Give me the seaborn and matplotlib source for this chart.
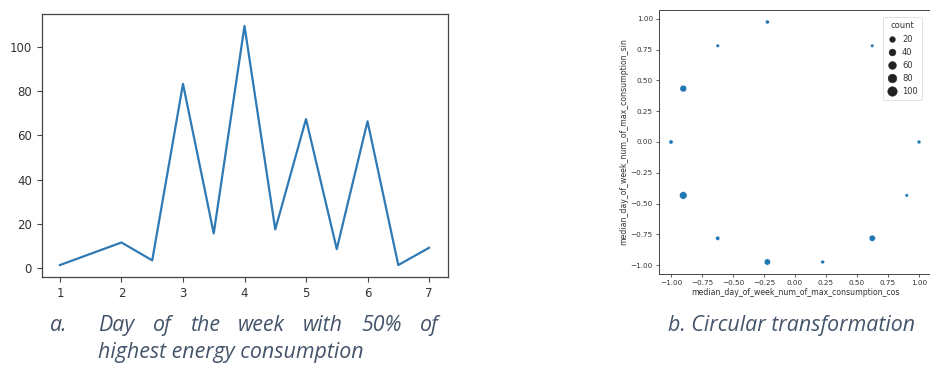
import matplotlib
matplotlib.use("Agg")
import matplotlib.pyplot as plt
import seaborn as sns
import pandas as pd

# ---- data ----
days = [1, 2, 2.5, 3, 3.5, 4, 4.5, 5, 5.5, 6, 6.5, 7]
counts = [1.4, 11.6, 3.5, 83.3, 15.7, 109.5, 17.5, 67.4, 8.6, 66.4, 1.4, 9.2]
cos_vals = [0.623, -0.223, -0.623, -0.901, -1.0, -0.901, -0.623, -0.223, 0.223, 0.623, 0.901, 1.0]
sin_vals = [0.782, 0.975, 0.782, 0.434, 0.0, -0.434, -0.782, -0.975, -0.975, -0.782, -0.434, 0.0]
left_xticks = [1, 2, 3, 4, 5, 6, 7]
left_yticks = [0, 20, 40, 60, 80, 100]
circ_ticks = [-1.0, -0.75, -0.5, -0.25, 0.0, 0.25, 0.5, 0.75, 1.0]
caption_a1 = ["Day", "of", "the", "week", "with", "50%", "of"]
caption_a2 = "highest energy consumption"
caption_b = "b. Circular transformation"

df_line = pd.DataFrame({"day": days, "count": counts})
df_circ = pd.DataFrame({"median_day_of_week_num_of_max_consumption_cos": cos_vals,
                        "median_day_of_week_num_of_max_consumption_sin": sin_vals,
                        "count": counts})

W, H = 930, 365
fig = plt.figure(figsize=(W / 100, H / 100), dpi=100)

def ax_rect(x0, x1, ytop, ybot):
    return [x0 / W, 1 - ybot / H, (x1 - x0) / W, (ybot - ytop) / H]

tick_col = "#333333"
spine_col = "#444444"

# ---- left: line chart ----
ax1 = fig.add_axes(ax_rect(41.5, 447.5, 14, 277))
sns.lineplot(data=df_line, x="day", y="count", ax=ax1, color="#2f7ab5", linewidth=1.6)
ax1.set_xticks(left_xticks)
ax1.set_yticks(left_yticks)
ax1.set_xlabel("")
ax1.set_ylabel("")
ax1.tick_params(labelsize=8.5, colors=spine_col, labelcolor=tick_col, length=3.5, width=0.8)
for s in ax1.spines.values():
    s.set_color(spine_col)
    s.set_linewidth(0.9)

# ---- right: circular scatter ----
ax2 = fig.add_axes(ax_rect(658.6, 931.4, 10, 274))
sns.scatterplot(data=df_circ,
                x="median_day_of_week_num_of_max_consumption_cos",
                y="median_day_of_week_num_of_max_consumption_sin",
                size="count", sizes=(6, 30), color="#1f77b4",
                edgecolor="white", linewidth=0.3, ax=ax2)
ax2.set_xlim(-1.1, 1.1)
ax2.set_ylim(-1.0725, 1.0725)
ax2.set_xticks(circ_ticks)
ax2.set_yticks(circ_ticks)
ax2.set_xticklabels([f"{t:.2f}".replace("-", "\u2212") for t in circ_ticks])
ax2.set_yticklabels([f"{t:.2f}".replace("-", "\u2212") for t in circ_ticks])
ax2.tick_params(labelsize=5.2, colors=spine_col, labelcolor=tick_col, length=2.2, width=0.6, pad=2)
ax2.xaxis.label.set_size(5.6)
ax2.yaxis.label.set_size(5.6)
ax2.xaxis.label.set_color(tick_col)
ax2.yaxis.label.set_color(tick_col)
ax2.xaxis.labelpad = 1.5
ax2.yaxis.labelpad = 1.5
for s in ax2.spines.values():
    s.set_color(spine_col)
    s.set_linewidth(0.7)
sns.move_legend(ax2, "upper right", bbox_to_anchor=(926 / W, 1 - 13 / H),
                bbox_transform=fig.transFigure, fontsize=6, title_fontsize=6,
                frameon=True, borderpad=0.5, labelspacing=0.5, handletextpad=0.6,
                handlelength=1.2, markerscale=1.3)
leg = ax2.get_legend()
leg.get_frame().set_linewidth(0.5)
for t in leg.get_texts():
    t.set_color(tick_col)
leg.get_title().set_color(tick_col)
for h in leg.legend_handles:
    try:
        h.set_markerfacecolor("#222222")
        h.set_markeredgecolor("#222222")
    except Exception:
        try:
            h.set_facecolor("#222222")
            h.set_edgecolor("#222222")
        except Exception:
            pass

# ---- captions ----
cap_col = "#44546A"
cap_font = dict(family="Open Sans", style="italic", fontsize=15.4, color=cap_col)

def px(x, y):
    return x / W, 1 - y / H

fig.text(*px(50, 331), "a.", ha="left", va="baseline", **cap_font)

# justified first line
renderer = fig.canvas.get_renderer()
x_start, x_end = 98, 439
word_objs = [fig.text(0, 0, w, ha="left", va="baseline", **cap_font) for w in caption_a1]
widths = [t.get_window_extent(renderer).width for t in word_objs]
gap = (x_end - x_start - sum(widths)) / (len(caption_a1) - 1)
x = x_start
for t, w in zip(word_objs, widths):
    t.set_position(px(x, 331))
    x += w + gap

fig.text(*px(98, 358), caption_a2, ha="left", va="baseline", **cap_font)
fig.text(*px(915, 331), caption_b, ha="right", va="baseline", **cap_font)

fig.savefig("out.png", dpi=100)
